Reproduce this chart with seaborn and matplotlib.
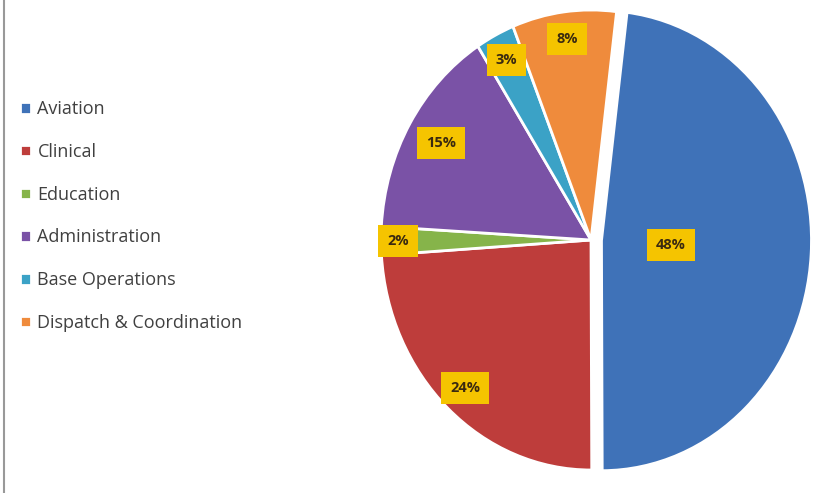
import numpy as np
import matplotlib
matplotlib.use("Agg")
import matplotlib.pyplot as plt
import seaborn as sns

sns.set_theme(style="white")
plt.rcParams['font.family'] = ['Open Sans', 'DejaVu Sans']

categories = ["Aviation", "Clinical", "Education", "Administration",
              "Base Operations", "Dispatch & Coordination"]
shares = [48, 24, 2, 15, 3, 8]
colors = ["#3F72B8", "#BE3D3B", "#86B44A", "#7A52A6", "#3BA2C6", "#EF8B3C"]

fig = plt.figure(figsize=(8.21, 4.93), dpi=100)
W, H = 821, 493
cx, cy, rx, ry = 591, 240, 210, 230
ax = fig.add_axes([(cx - rx) / W, (H - cy - ry) / H, 2 * rx / W, 2 * ry / H])

explode = [0.05, 0, 0, 0, 0, 0]
wedges, _ = ax.pie(shares, colors=colors, startangle=83, counterclock=False,
                   explode=explode, radius=1.0,
                   wedgeprops=dict(edgecolor="white", linewidth=2))
ax.set_aspect('auto')
ax.set_xlim(-1, 1)
ax.set_ylim(-1, 1)
for w in wedges:
    w.set_clip_on(False)

label_r = [0.33, 0.88, 0.92, 0.83, 0.88, 0.88]
total = sum(shares)
for w, v, r in zip(wedges, shares, label_r):
    th = np.deg2rad((w.theta1 + w.theta2) / 2)
    c = w.center
    ax.text(c[0] + r * np.cos(th), c[1] + r * np.sin(th), f"{v / total * 100:.0f}%",
            ha="center", va="center", fontsize=10.5, fontweight="bold", color="#3a2a10",
            bbox=dict(boxstyle="square,pad=0.62", facecolor="#F5C400", edgecolor="none"))

leg = fig.legend(wedges, categories, loc="upper left",
                 bbox_to_anchor=(4 / W, 1 - 84 / H), frameon=False,
                 fontsize=13, labelspacing=1.37, handlelength=0.6, handleheight=0.6,
                 handletextpad=0.35, labelcolor="#404040")

fig.add_artist(plt.Line2D([4 / W, 4 / W], [0, 1], color="#999999", linewidth=1.5))

fig.savefig("out.png", dpi=100)
